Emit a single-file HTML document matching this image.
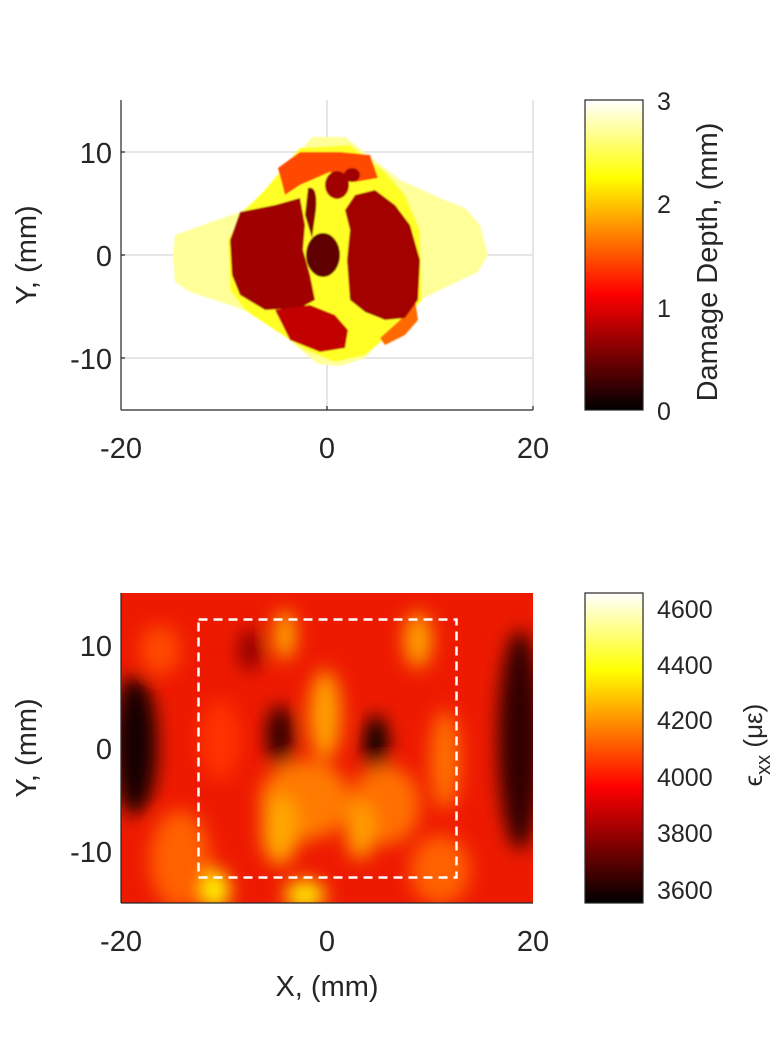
<!DOCTYPE html>
<html><head><meta charset="utf-8"><style>
body{margin:0;background:#fff;}
svg text{font-family:"Liberation Sans",sans-serif;fill:#262626;}
</style></head><body>
<svg width="781" height="1040" xmlns="http://www.w3.org/2000/svg">
<defs>
<linearGradient id="hot" x1="0" y1="1" x2="0" y2="0">
<stop offset="0" stop-color="#000"/><stop offset="0.375" stop-color="#f00"/>
<stop offset="0.75" stop-color="#ff0"/><stop offset="1" stop-color="#fff"/>
</linearGradient>
<filter id="bl" x="-50%" y="-50%" width="200%" height="200%"><feGaussianBlur stdDeviation="9"/></filter>
<filter id="bl2"><feGaussianBlur stdDeviation="0.8"/></filter>
<clipPath id="c2"><rect x="121" y="593" width="412" height="310"/></clipPath>
</defs>

<g stroke="#dedede" stroke-width="1.5">
<line x1="121" y1="152" x2="533" y2="152"/><line x1="121" y1="255" x2="533" y2="255"/><line x1="121" y1="358" x2="533" y2="358"/>
<line x1="327" y1="100" x2="327" y2="410"/><line x1="533" y1="100" x2="533" y2="410"/>
</g>
<g filter="url(#bl2)">
<path d="M312,137 L345,137 L372,158 L400,180 L440,198 L465,208 L480,225 L488,255 L478,272 L440,290 L410,305 L390,330 L365,358 L340,366 L318,364 L295,345 L265,318 L230,305 L190,292 L175,282 L173,255 L175,235 L200,226 L240,212 L262,195 L285,170 Z" fill="#ffff9a"/>
<path d="M300,148 L350,145 L385,172 L405,195 L420,230 L422,300 L395,330 L365,355 L335,362 L305,350 L275,330 L245,310 L230,290 L228,240 L245,210 L265,190 Z" fill="#ffff28"/>
<path d="M278,168 L300,152 L340,152 L370,155 L378,178 L355,182 L330,172 L300,185 L285,195 Z" fill="#ff4a00"/>
<path d="M380,338 L400,320 L415,300 L418,320 L405,335 L385,345 Z" fill="#ff6a00"/>
<path d="M240,212 L275,205 L300,198 L305,225 L303,250 L310,275 L315,300 L300,308 L265,310 L240,295 L232,275 L230,240 Z" fill="#a00000"/>
<path d="M355,195 L375,190 L395,205 L410,225 L420,260 L418,300 L405,318 L385,320 L365,312 L350,300 L347,260 L350,230 L345,210 Z" fill="#a30000"/>
<path d="M275,310 L310,305 L335,315 L348,330 L345,348 L320,352 L290,340 Z" fill="#c20000"/>
<ellipse cx="323" cy="255" rx="17" ry="22" fill="#600000"/>
<path d="M308,188 Q318,185 316,210 L312,238 L305,215 Z" fill="#800000"/>
<ellipse cx="337" cy="185" rx="12" ry="14" fill="#a00000"/>
<ellipse cx="352" cy="175" rx="8" ry="7" fill="#a00000"/>
</g>
<g stroke="#262626" stroke-width="1.2" fill="none">
<line x1="121" y1="100" x2="121" y2="410"/><line x1="121" y1="410" x2="533" y2="410"/>
<line x1="121" y1="152" x2="125" y2="152"/><line x1="121" y1="255" x2="125" y2="255"/><line x1="121" y1="358" x2="125" y2="358"/>
<line x1="327" y1="410" x2="327" y2="406"/><line x1="533" y1="410" x2="533" y2="406"/>
</g>
<g font-size="29" text-anchor="end">
<text x="112" y="163">10</text><text x="112" y="266">0</text><text x="112" y="369">-10</text>
</g>
<g font-size="29" text-anchor="middle">
<text x="121" y="458">-20</text><text x="327" y="458">0</text><text x="533" y="458">20</text>
</g>
<text font-size="29" text-anchor="middle" transform="translate(36,255) rotate(-90)">Y, (mm)</text>
<rect x="585" y="100" width="58" height="310" fill="url(#hot)" stroke="#262626" stroke-width="1.2"/>
<g font-size="25"><text x="657" y="110">3</text><text x="657" y="213">2</text><text x="657" y="317">1</text><text x="657" y="420">0</text></g>
<text font-size="29" text-anchor="middle" transform="translate(717,262) rotate(-90)">Damage Depth, (mm)</text>

<g clip-path="url(#c2)">
<rect x="121" y="593" width="412" height="310" fill="#ee1a00"/>
<g filter="url(#bl)">
<ellipse cx="135" cy="745" rx="22" ry="70" fill="#150000"/>
<ellipse cx="520" cy="740" rx="22" ry="110" fill="#300000"/>
<ellipse cx="280" cy="735" rx="14" ry="30" fill="#300000"/>
<ellipse cx="376" cy="745" rx="12" ry="30" fill="#000"/>
<ellipse cx="250" cy="650" rx="12" ry="22" fill="#900000"/>
<ellipse cx="285" cy="635" rx="10" ry="25" fill="#ffb000"/>
<ellipse cx="418" cy="640" rx="14" ry="28" fill="#ffa000"/>
<ellipse cx="325" cy="715" rx="16" ry="45" fill="#ffa000"/>
<ellipse cx="305" cy="800" rx="45" ry="40" fill="#ff7a00"/>
<ellipse cx="385" cy="805" rx="35" ry="40" fill="#ff7000"/>
<ellipse cx="280" cy="830" rx="18" ry="35" fill="#ffa800"/>
<ellipse cx="360" cy="830" rx="14" ry="30" fill="#ffa000"/>
<ellipse cx="215" cy="890" rx="14" ry="20" fill="#ffff00"/>
<ellipse cx="305" cy="895" rx="20" ry="15" fill="#ffe800"/>
<ellipse cx="180" cy="860" rx="30" ry="50" fill="#ff6000"/>
<ellipse cx="440" cy="870" rx="30" ry="35" fill="#ff6000"/>
<ellipse cx="445" cy="760" rx="15" ry="50" fill="#ff7000"/>
<ellipse cx="160" cy="650" rx="20" ry="25" fill="#ff4a00"/>
<ellipse cx="220" cy="740" rx="20" ry="40" fill="#ff3000"/>
</g>
</g>
<rect x="198.5" y="619.5" width="258" height="258" fill="none" stroke="#fff" stroke-width="2.5" stroke-dasharray="9,6"/>
<g stroke="#262626" stroke-width="1.2" fill="none">
<line x1="121" y1="593" x2="121" y2="903"/><line x1="121" y1="903" x2="533" y2="903"/>
</g>
<g font-size="29" text-anchor="end">
<text x="112" y="656">10</text><text x="112" y="759">0</text><text x="112" y="862">-10</text>
</g>
<g font-size="29" text-anchor="middle">
<text x="121" y="951">-20</text><text x="327" y="951">0</text><text x="533" y="951">20</text>
<text x="327" y="996">X, (mm)</text>
</g>
<text font-size="29" text-anchor="middle" transform="translate(36,748) rotate(-90)">Y, (mm)</text>
<rect x="585" y="593" width="58" height="310" fill="url(#hot)" stroke="#262626" stroke-width="1.2"/>
<g font-size="25"><text x="657" y="618">4600</text><text x="657" y="674">4400</text><text x="657" y="729">4200</text><text x="657" y="786">4000</text><text x="657" y="842">3800</text><text x="657" y="899">3600</text></g>
<text font-size="26" text-anchor="middle" transform="translate(762,745) rotate(-90)">ϵ<tspan font-size="20" dy="8">xx</tspan><tspan dy="-8"> (με)</tspan></text>
</svg>
</body></html>
